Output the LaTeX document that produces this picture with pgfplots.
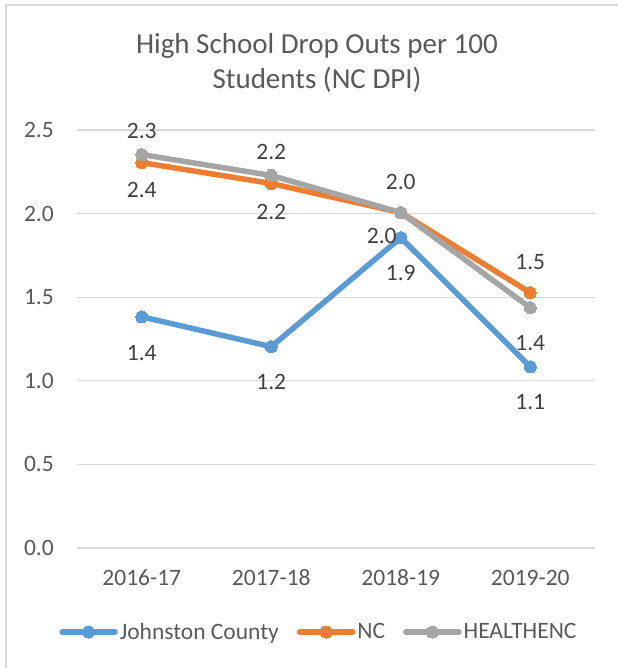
\documentclass[border=0pt]{standalone}
\usepackage{pgfplots}
\pgfplotsset{compat=1.18}
\usepackage{pgfplotstable}
\usepackage{fontspec}
\setmainfont{Carlito}
\definecolor{cblue}{HTML}{5B9BD5}
\definecolor{corange}{HTML}{ED7D31}
\definecolor{cgray}{HTML}{A5A5A5}
\definecolor{ctext}{HTML}{595959}
\definecolor{clab}{HTML}{404040}
\definecolor{cgrid}{HTML}{D9D9D9}

\pgfplotstableread{
x y lab lx ly
0 1.383 1.4 0 -36
1 1.204 1.2 0 -35
2 1.856 1.9 0 -35
3 1.084 1.1 0 -35
}\johnston
\pgfplotstableread{
x y lab lx ly
0 2.305 2.4 0 -27
1 2.180 2.2 0 -28
2 2.006 2.0 -19 -23
3 1.527 1.5 0 31
}\nc
\pgfplotstableread{
x y lab lx ly
0 2.353 2.3 0 24
1 2.228 2.2 0 23
2 2.006 2.0 0 31
3 1.437 1.4 0 -35
}\healthenc

\begin{document}
\begin{tikzpicture}[x=1bp,y=1bp]
\path[use as bounding box] (0,0) rectangle (618,668);
\draw[cgrid, line width=1.5bp] (6,0) -- (6,663) -- (618,663);
\node[align=center, text=ctext, font=\fontsize{29bp}{35bp}\selectfont] at (317,605.5) {High School Drop Outs per 100\\Students (NC DPI)};
\begin{axis}[
  at={(77bp,120bp)}, anchor=south west,
  scale only axis, width=518bp, height=418bp,
  xmin=-0.5, xmax=3.5, ymin=0, ymax=2.5,
  xtick={0,1,2,3},
  xticklabels={2016-17,2017-18,2018-19,2019-20},
  ytick={0,0.5,1,1.5,2,2.5},
  ymajorgrids,
  major grid style={cgrid, line width=1.3bp},
  axis line style={draw=none},
  tick style={draw=none},
  /pgf/number format/assume math mode=true,
  yticklabel={\pgfmathprintnumber[fixed, fixed zerofill, precision=1]{\tick}},
  yticklabel style={anchor=east, inner sep=0pt, xshift=-23bp, text=ctext, font=\fontsize{23.5bp}{28bp}\selectfont},
  xticklabel style={anchor=center, inner sep=0pt, yshift=-30bp, text=ctext, font=\fontsize{23.5bp}{28bp}\selectfont},
  clip=false,
  point meta=explicit symbolic,
  visualization depends on={\thisrow{lx} \as \lx},
  visualization depends on={\thisrow{ly} \as \ly},
  nodes near coords,
  every node near coord/.style={anchor=center, inner sep=0pt, xshift=\lx bp, yshift=\ly bp, text=clab, font=\fontsize{23.5bp}{28bp}\selectfont},
  legend columns=-1,
  legend style={at={(0.467,-0.201)}, anchor=center, draw=none, fill=none,
    font=\fontsize{23.5bp}{28bp}\selectfont, text=ctext,
    /tikz/every even column/.append style={column sep=16bp},
    nodes={inner sep=2bp}},
  legend image code/.code={\draw[#1, line cap=round, mark repeat=2, mark phase=2] plot coordinates {(0bp,0bp) (26.5bp,0bp) (53bp,0bp)};},
]
\addplot[cblue, line width=5.5bp, line join=round, mark=*, mark size=6bp, mark options={line width=0pt}] table[x=x, y=y, meta=lab] {\johnston};
\addlegendentry{Johnston County}
\addplot[corange, line width=5.5bp, line join=round, mark=*, mark size=6bp, mark options={line width=0pt}] table[x=x, y=y, meta=lab] {\nc};
\addlegendentry{NC}
\addplot[cgray, line width=5.5bp, line join=round, mark=*, mark size=6bp, mark options={line width=0pt}] table[x=x, y=y, meta=lab] {\healthenc};
\addlegendentry{HEALTHENC}
\end{axis}
\end{tikzpicture}
\end{document}
